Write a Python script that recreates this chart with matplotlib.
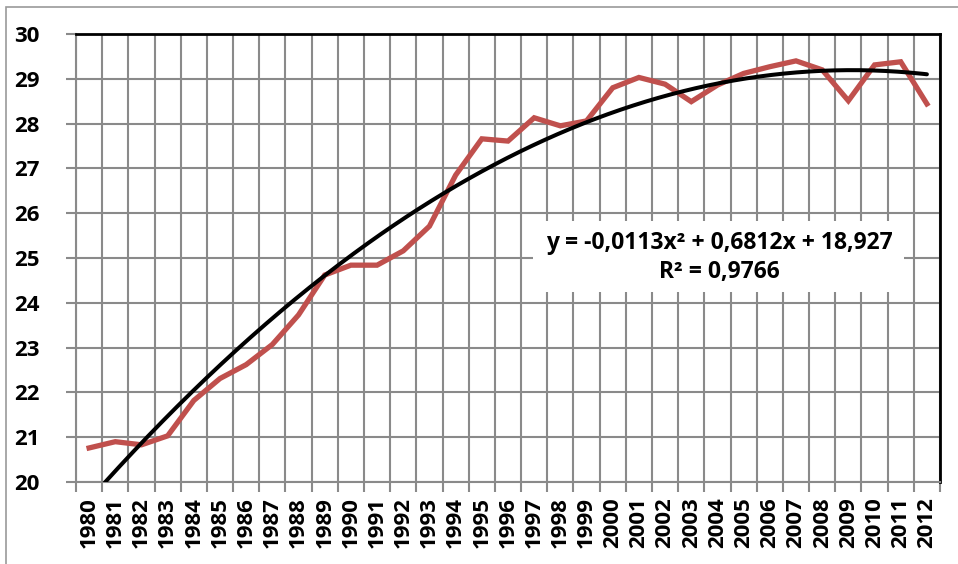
import numpy as np
import matplotlib
matplotlib.use("Agg")
import matplotlib.pyplot as plt
from matplotlib.patches import Rectangle

years = list(range(1980, 2013))
values = [20.76, 20.90, 20.83, 21.03, 21.82, 22.31, 22.62, 23.07, 23.73, 24.62,
          24.84, 24.84, 25.16, 25.71, 26.85, 27.66, 27.61, 28.13, 27.95, 28.06,
          28.80, 29.03, 28.88, 28.49, 28.86, 29.12, 29.27, 29.40, 29.20, 28.51,
          29.31, 29.38, 28.44]
# Excel polynomial trendline coefficients (as shown on the chart)
coef_a, coef_b, coef_c = -0.0113, 0.6812, 18.927
eq_text = "y = -0,0113x² + 0,6812x + 18,927"
r2_text = "R² = 0,9766"
y_ticks = [20, 21, 22, 23, 24, 25, 26, 27, 28, 29, 30]

FONT = ["Open Sans", "DejaVu Sans"]

W, H = 958, 564
fig = plt.figure(figsize=(W / 100, H / 100), dpi=100)
fig.patch.set_facecolor("white")

# outer chart frame
fig.patches.append(Rectangle((6 / W, -0.05), 1.2, 1 - 7 / H + 0.05, transform=fig.transFigure,
                             fill=False, edgecolor="#9a9a9a", linewidth=1.2))

ax = fig.add_axes([76 / W, 1 - 482 / H, (940 - 76) / W, (482 - 34) / H])
n = len(years)
x = np.arange(n)

ax.set_xlim(-0.5, n - 0.5)
ax.set_ylim(20, 30)

grid_col = "#8a8a8a"
for yv in y_ticks:
    ax.axhline(yv, color=grid_col, lw=1.5, zorder=1)
for b in np.arange(-0.5, n, 1.0):
    ax.axvline(b, color=grid_col, lw=1.5, zorder=1)

ax.plot(x, values, color="#C0504D", lw=3.8, zorder=3, solid_joinstyle="miter")
xt = np.linspace(1, n, 400)
yt = coef_a * xt ** 2 + coef_b * xt + coef_c
ax.plot(xt - 1, yt, color="black", lw=2.9, zorder=4, solid_capstyle="round")

# white box behind equation text
fig.patches.append(Rectangle((533 / W, 1 - 292 / H), (904 - 533) / W, (292 - 221) / H,
                             transform=fig.transFigure, facecolor="white", edgecolor="none",
                             zorder=5))
fig.text(719 / W, 1 - 243 / H, eq_text, ha="center", va="center", fontsize=16.5,
         fontweight="bold", family=FONT, zorder=6)
fig.text(719 / W, 1 - 272 / H, r2_text, ha="center", va="center", fontsize=16.5,
         fontweight="bold", family=FONT, zorder=6)

for s in ["left", "bottom"]:
    ax.spines[s].set_color(grid_col)
    ax.spines[s].set_linewidth(1.5)
for s in ["top", "right"]:
    ax.spines[s].set_color("black")
    ax.spines[s].set_linewidth(2.0)

ax.set_yticks(y_ticks)
ax.set_yticklabels([str(v) for v in y_ticks], family=FONT, fontweight="bold", fontsize=16)
ax.tick_params(axis="y", length=7, width=1.5, color=grid_col, pad=19)

ax.set_xticks(x)
ax.set_xticklabels([str(yv) for yv in years], rotation=90, family=FONT,
                   fontweight="bold", fontsize=16)
ax.set_xticks(np.arange(-0.5, n, 1.0), minor=True)
ax.tick_params(axis="x", which="major", length=0, pad=11)
ax.tick_params(axis="x", which="minor", length=7, width=1.5, color=grid_col)

fig.savefig("out.png", dpi=100, facecolor="white")
